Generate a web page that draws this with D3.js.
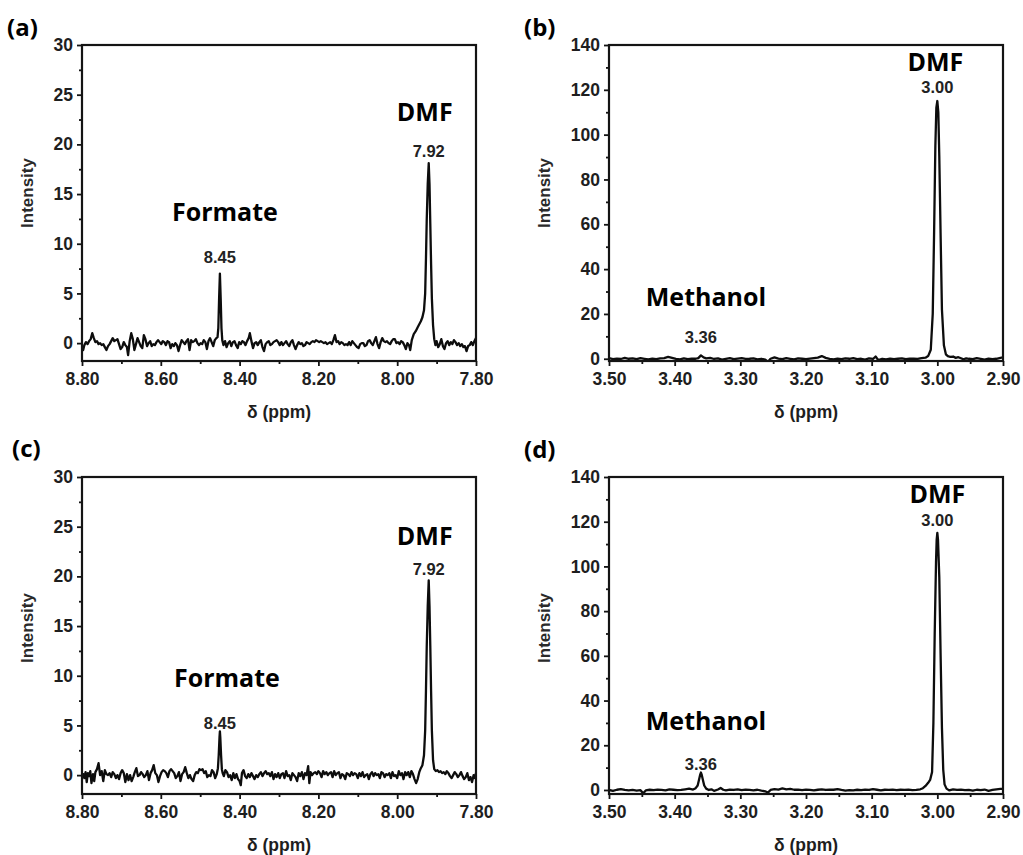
<!DOCTYPE html>
<html>
<head>
<meta charset="utf-8">
<script src="https://cdn.jsdelivr.net/npm/d3@7"></script>
<style>
  body { margin: 0; background: #ffffff; }
  svg { display: block; }
</style>
</head>
<body>
<svg id="fig" width="1023" height="855"></svg>
<script>
// ---------- 1H NMR spectra: [chemical shift (ppm), intensity] ----------
const spectrumA = [
[8.800,-0.3],[8.797,-0.7],[8.794,-0.2],[8.790,0.1],[8.786,-0.1],[8.782,0.2],[8.778,0.4],[8.774,1.0],[8.770,0.5],[8.766,0.1],[8.762,0.2],[8.758,-0.1],[8.754,0.0],[8.750,-0.2],[8.746,-0.1],[8.742,-0.4],[8.738,-0.7],[8.734,-0.3],[8.730,-0.1],[8.726,0.2],[8.722,0.5],[8.718,0.2],[8.714,0.3],[8.710,0.4],[8.706,-0.1],[8.702,-0.6],[8.698,-0.4],[8.694,0.1],[8.690,-0.2],[8.686,-0.4],[8.683,-1.2],[8.679,0.2],[8.675,1.0],[8.671,0.4],[8.667,-0.7],[8.663,-0.1],[8.659,0.5],[8.655,0.1],[8.651,-0.3],[8.647,-0.5],[8.643,0.8],[8.639,0.4],[8.635,-0.3],[8.631,0.0],[8.627,0.2],[8.623,-0.3],[8.619,-0.1],[8.615,-0.2],[8.611,0.1],[8.607,0.3],[8.603,0.1],[8.599,-0.1],[8.595,0.2],[8.591,0.1],[8.587,-0.2],[8.583,0.2],[8.579,0.1],[8.575,-0.5],[8.571,-0.1],[8.567,-0.3],[8.563,0.0],[8.559,-0.2],[8.555,-0.8],[8.551,-0.2],[8.547,0.3],[8.543,0.1],[8.539,-0.1],[8.535,0.2],[8.531,0.4],[8.527,-0.7],[8.523,0.3],[8.519,0.1],[8.515,0.2],[8.511,0.4],[8.507,0.0],[8.503,-0.2],[8.499,0.0],[8.495,-0.1],[8.491,0.3],[8.487,0.1],[8.483,-0.6],[8.479,0.2],[8.475,0.5],[8.471,0.1],[8.467,-0.3],[8.463,0.3],[8.459,0.5],[8.456,0.6],[8.454,1.5],[8.452,4.5],[8.450,7.0],[8.448,4.5],[8.446,1.5],[8.444,0.3],[8.441,-0.2],[8.437,0.2],[8.433,-0.4],[8.429,0.0],[8.425,0.2],[8.421,-0.3],[8.417,0.1],[8.413,0.2],[8.409,-0.2],[8.405,-0.5],[8.401,0.1],[8.397,-0.1],[8.393,0.2],[8.389,0.1],[8.385,-0.2],[8.381,0.2],[8.377,0.5],[8.374,1.0],[8.370,0.2],[8.366,-0.5],[8.362,0.0],[8.358,0.1],[8.354,-0.2],[8.350,0.1],[8.346,0.3],[8.342,-0.4],[8.338,-0.8],[8.334,-0.1],[8.330,0.1],[8.326,0.2],[8.322,-0.2],[8.318,-0.1],[8.314,0.1],[8.310,0.2],[8.306,0.3],[8.302,0.1],[8.298,-0.2],[8.294,0.1],[8.290,-0.2],[8.286,0.0],[8.282,0.2],[8.278,-0.1],[8.274,-0.3],[8.270,0.1],[8.266,0.3],[8.262,-0.2],[8.258,-0.6],[8.254,-0.2],[8.250,0.1],[8.246,-0.1],[8.242,0.0],[8.238,-0.3],[8.234,-0.2],[8.230,0.1],[8.226,0.0],[8.222,-0.1],[8.218,0.1],[8.214,0.2],[8.210,0.1],[8.206,0.3],[8.202,0.2],[8.198,0.1],[8.194,0.2],[8.190,0.1],[8.186,0.0],[8.182,0.1],[8.178,-0.1],[8.174,0.0],[8.170,0.1],[8.166,-0.1],[8.162,0.3],[8.158,0.8],[8.154,0.1],[8.150,0.2],[8.146,-0.1],[8.142,0.1],[8.138,0.0],[8.134,-0.2],[8.130,-0.1],[8.126,-0.2],[8.122,0.1],[8.118,-0.2],[8.114,0.2],[8.110,0.0],[8.106,-0.2],[8.102,-0.4],[8.098,-0.5],[8.094,-0.1],[8.090,0.0],[8.086,0.0],[8.082,-0.3],[8.078,-0.2],[8.074,0.2],[8.070,0.3],[8.066,0.0],[8.062,-0.2],[8.058,0.2],[8.054,0.6],[8.050,-0.1],[8.046,-0.5],[8.042,0.1],[8.038,0.5],[8.034,0.2],[8.030,0.1],[8.026,0.2],[8.022,0.0],[8.018,-0.1],[8.014,0.2],[8.010,0.4],[8.006,0.4],[8.002,0.0],[7.998,0.1],[7.994,-0.1],[7.990,0.2],[7.986,0.1],[7.982,-0.2],[7.978,-0.6],[7.974,0.0],[7.970,-0.2],[7.967,-0.7],[7.963,0.3],[7.958,0.9],[7.953,1.2],[7.948,1.6],[7.944,1.9],[7.940,2.2],[7.936,2.6],[7.932,3.3],[7.929,5.0],[7.927,8.5],[7.925,12.5],[7.9225,16.0],[7.920,18.1],[7.918,16.0],[7.916,12.0],[7.914,8.0],[7.912,4.5],[7.909,1.8],[7.906,0.4],[7.903,-0.2],[7.900,0.2],[7.896,-0.4],[7.892,-0.1],[7.888,0.4],[7.884,-0.3],[7.880,-0.6],[7.876,0.0],[7.872,0.2],[7.868,-0.2],[7.864,0.1],[7.860,-0.1],[7.856,0.3],[7.852,0.1],[7.848,-0.2],[7.844,0.0],[7.840,-0.3],[7.836,-0.1],[7.832,-0.4],[7.828,-0.3],[7.824,-0.8],[7.820,-0.3],[7.816,-0.2],[7.812,0.1],[7.808,-0.2],[7.804,0.2],[7.800,0.5]
];

const spectrumB = [
[3.500,0.3],[3.494,-0.2],[3.488,0.1],[3.482,-0.1],[3.476,0.4],[3.470,0.0],[3.464,0.2],[3.458,-0.2],[3.452,0.3],[3.446,0.0],[3.440,-0.3],[3.434,0.1],[3.428,-0.2],[3.422,0.2],[3.416,0.3],[3.410,0.8],[3.404,0.4],[3.398,0.0],[3.392,-0.3],[3.386,0.2],[3.380,-0.2],[3.374,0.1],[3.368,0.0],[3.364,0.3],[3.360,1.5],[3.356,0.6],[3.352,0.2],[3.346,0.4],[3.340,-0.1],[3.334,0.2],[3.328,-0.4],[3.322,0.0],[3.316,0.3],[3.310,-0.2],[3.304,0.1],[3.298,0.3],[3.292,-0.1],[3.286,0.0],[3.280,0.2],[3.274,-0.3],[3.268,0.0],[3.262,-0.4],[3.258,-1.4],[3.254,0.0],[3.248,0.6],[3.242,0.1],[3.236,-0.2],[3.230,0.3],[3.224,0.0],[3.218,-0.3],[3.212,0.2],[3.206,0.0],[3.200,-0.2],[3.194,0.1],[3.188,0.3],[3.182,0.5],[3.176,1.2],[3.170,0.4],[3.164,0.0],[3.158,-0.3],[3.152,0.1],[3.146,-0.2],[3.140,0.2],[3.134,0.0],[3.128,0.3],[3.122,-0.2],[3.116,0.0],[3.110,-0.4],[3.104,0.2],[3.098,-0.1],[3.094,1.0],[3.090,-0.6],[3.084,0.0],[3.078,-0.3],[3.072,0.1],[3.066,-0.2],[3.060,0.0],[3.054,0.2],[3.048,-0.2],[3.042,0.1],[3.036,0.0],[3.030,-0.1],[3.024,0.3],[3.018,0.5],[3.014,1.2],[3.010,4.0],[3.007,20],[3.005,55],[3.003,95],[3.0015,112],[3.000,115],[2.9985,110],[2.997,90],[2.995,55],[2.993,22],[2.990,6],[2.987,2.0],[2.984,1.2],[2.980,0.8],[2.976,1.0],[2.972,0.4],[2.968,0.7],[2.964,0.2],[2.960,-0.3],[2.956,0.2],[2.952,0.0],[2.946,-0.2],[2.940,0.3],[2.934,0.0],[2.928,-0.4],[2.922,0.1],[2.916,-0.2],[2.910,0.0],[2.904,0.4],[2.900,0.6]
];

const spectrumC = [
[8.800,-0.2],[8.797,0.1],[8.794,-0.3],[8.791,0.3],[8.788,-0.7],[8.785,0.2],[8.782,-0.1],[8.779,0.4],[8.776,-0.8],[8.772,0.1],[8.769,-0.6],[8.766,0.3],[8.762,0.6],[8.758,1.2],[8.754,0.0],[8.750,0.4],[8.746,-0.6],[8.742,0.5],[8.738,0.1],[8.734,0.0],[8.730,0.2],[8.726,-0.2],[8.722,0.3],[8.718,0.1],[8.714,-0.3],[8.710,0.0],[8.706,-0.4],[8.702,0.2],[8.698,0.5],[8.694,0.2],[8.690,-0.7],[8.686,0.1],[8.682,-0.5],[8.678,0.0],[8.674,-0.6],[8.670,-0.2],[8.666,0.3],[8.662,0.7],[8.658,-0.1],[8.654,0.0],[8.650,0.3],[8.646,0.1],[8.642,-0.2],[8.638,0.0],[8.634,0.4],[8.630,-0.5],[8.626,0.2],[8.622,0.5],[8.618,1.0],[8.614,0.2],[8.610,0.0],[8.606,-0.7],[8.602,-0.1],[8.598,0.3],[8.594,0.5],[8.590,0.4],[8.586,0.2],[8.582,-0.2],[8.578,0.4],[8.574,0.6],[8.570,0.4],[8.566,0.2],[8.562,-0.3],[8.558,-0.1],[8.554,0.3],[8.550,-0.6],[8.546,0.1],[8.542,0.3],[8.538,0.8],[8.534,0.2],[8.530,-0.3],[8.526,0.0],[8.522,-0.4],[8.518,-0.6],[8.514,0.0],[8.510,0.3],[8.506,0.2],[8.502,0.6],[8.498,0.5],[8.494,0.6],[8.490,0.2],[8.486,0.4],[8.482,-0.2],[8.478,0.0],[8.474,-0.1],[8.470,0.5],[8.466,0.3],[8.462,-0.3],[8.458,0.1],[8.455,0.7],[8.453,2.0],[8.451,3.8],[8.450,4.4],[8.449,3.8],[8.447,2.0],[8.445,0.6],[8.443,0.2],[8.440,-0.1],[8.436,0.5],[8.432,0.3],[8.428,-0.2],[8.424,0.0],[8.420,-0.5],[8.416,0.2],[8.412,-0.3],[8.408,0.1],[8.404,-0.4],[8.400,-0.6],[8.397,-1.0],[8.394,0.2],[8.390,0.5],[8.386,-0.1],[8.382,-0.3],[8.378,0.1],[8.374,-0.2],[8.370,0.2],[8.366,-0.1],[8.362,-0.4],[8.358,0.0],[8.354,-0.2],[8.350,0.1],[8.346,0.3],[8.342,-0.1],[8.338,0.2],[8.334,0.4],[8.330,0.1],[8.326,0.2],[8.322,-0.1],[8.318,0.3],[8.314,-0.4],[8.310,0.1],[8.306,-0.2],[8.302,0.2],[8.298,-0.3],[8.294,0.1],[8.290,0.2],[8.286,-0.3],[8.282,0.4],[8.278,-0.1],[8.274,0.0],[8.270,-0.5],[8.266,0.2],[8.262,0.0],[8.258,-0.2],[8.254,-0.6],[8.250,0.2],[8.246,-0.1],[8.242,0.3],[8.238,-0.4],[8.234,0.2],[8.230,0.0],[8.226,0.9],[8.223,-0.8],[8.220,0.3],[8.216,0.0],[8.212,0.2],[8.208,0.3],[8.204,0.1],[8.200,0.4],[8.196,0.2],[8.192,-0.2],[8.188,0.4],[8.184,0.1],[8.180,0.3],[8.176,0.0],[8.172,0.2],[8.168,0.3],[8.164,-0.2],[8.160,0.4],[8.156,0.0],[8.152,0.2],[8.148,0.3],[8.144,-0.3],[8.140,0.1],[8.136,0.0],[8.132,-0.4],[8.128,0.2],[8.124,0.1],[8.120,-0.1],[8.116,0.3],[8.112,0.0],[8.108,0.2],[8.104,0.1],[8.100,-0.3],[8.096,0.2],[8.092,-0.1],[8.088,0.3],[8.084,-0.2],[8.080,0.0],[8.076,0.1],[8.072,-0.4],[8.068,0.1],[8.064,0.3],[8.060,-0.1],[8.056,0.2],[8.052,0.0],[8.048,0.1],[8.044,-0.3],[8.040,0.3],[8.036,0.2],[8.032,-0.2],[8.028,0.1],[8.024,0.0],[8.020,0.2],[8.016,-0.3],[8.012,0.3],[8.008,-0.1],[8.004,0.0],[8.000,-0.3],[7.996,0.4],[7.992,0.0],[7.988,0.2],[7.984,-0.4],[7.980,0.3],[7.976,0.0],[7.972,0.3],[7.968,-0.2],[7.964,0.4],[7.960,0.1],[7.956,-0.4],[7.952,-0.8],[7.948,-0.4],[7.944,0.3],[7.940,0.7],[7.936,1.0],[7.932,2.0],[7.929,4.5],[7.927,8.5],[7.925,13.0],[7.9225,17.0],[7.920,19.6],[7.918,17.0],[7.916,13.0],[7.914,8.5],[7.912,4.5],[7.909,1.5],[7.906,0.6],[7.902,0.4],[7.898,0.5],[7.894,0.3],[7.890,0.4],[7.886,0.2],[7.882,0.3],[7.878,0.1],[7.874,0.4],[7.870,0.2],[7.866,-0.1],[7.862,-0.3],[7.858,0.0],[7.854,0.3],[7.850,0.1],[7.846,-0.2],[7.842,0.0],[7.838,0.3],[7.834,-0.1],[7.830,-0.4],[7.826,-0.2],[7.822,0.2],[7.818,-0.5],[7.814,-0.2],[7.810,-0.7],[7.806,0.0],[7.803,-0.3],[7.800,0.2]
];

const spectrumD = [
[3.500,0.0],[3.494,-0.4],[3.488,0.1],[3.482,0.4],[3.476,0.0],[3.470,-0.2],[3.464,0.0],[3.458,-0.3],[3.452,-0.1],[3.448,-1.5],[3.444,-0.2],[3.438,0.1],[3.432,-0.1],[3.426,0.2],[3.420,0.0],[3.414,-0.2],[3.408,0.3],[3.402,0.1],[3.396,-0.1],[3.390,0.0],[3.384,0.3],[3.378,0.6],[3.372,0.2],[3.368,0.8],[3.365,2.0],[3.363,4.5],[3.361,7.0],[3.360,7.8],[3.359,7.0],[3.357,4.5],[3.355,2.0],[3.352,0.6],[3.348,0.0],[3.344,0.3],[3.340,-0.4],[3.334,0.2],[3.330,0.9],[3.326,0.1],[3.322,-0.2],[3.316,0.2],[3.310,0.0],[3.304,0.3],[3.298,-0.1],[3.292,0.2],[3.286,0.0],[3.280,-0.2],[3.274,0.1],[3.268,-0.3],[3.262,-0.6],[3.258,-1.2],[3.254,0.0],[3.248,0.4],[3.242,0.2],[3.236,0.7],[3.230,0.3],[3.224,0.5],[3.218,0.1],[3.212,0.2],[3.206,-0.1],[3.200,0.2],[3.194,0.0],[3.188,-0.2],[3.182,0.1],[3.176,0.3],[3.170,0.0],[3.164,0.2],[3.158,0.1],[3.152,0.4],[3.146,0.0],[3.140,-0.3],[3.134,-0.1],[3.128,-0.2],[3.122,0.1],[3.116,-0.1],[3.110,0.2],[3.104,0.0],[3.098,0.4],[3.092,0.1],[3.086,-0.2],[3.080,0.1],[3.074,0.0],[3.068,0.2],[3.062,-0.1],[3.056,0.1],[3.050,0.0],[3.044,0.2],[3.038,-0.1],[3.032,0.0],[3.026,0.3],[3.022,0.8],[3.018,1.8],[3.014,3.2],[3.011,4.5],[3.008,8],[3.006,30],[3.004,70],[3.002,102],[3.001,112],[3.000,115],[2.999,112],[2.997,95],[2.995,60],[2.993,28],[2.991,9],[2.989,2.5],[2.986,0.6],[2.982,-0.2],[2.976,0.3],[2.970,0.0],[2.964,0.2],[2.958,-0.1],[2.952,0.0],[2.946,-0.3],[2.940,0.1],[2.934,-0.1],[2.928,0.2],[2.922,-0.4],[2.916,0.0],[2.910,0.3],[2.904,0.5],[2.900,0.5]
];

// ---------- assigned peaks ----------
const peaksA = [8.45, 7.92];
const compoundsA = ["Formate", "DMF"];
const peaksB = [3.36, 3.00];
const compoundsB = ["Methanol", "DMF"];
const peaksC = [8.45, 7.92];
const compoundsC = ["Formate", "DMF"];
const peaksD = [3.36, 3.00];
const compoundsD = ["Methanol", "DMF"];

// ---------- axes ----------
const xDomainAC = [8.80, 7.80];
const xDomainBD = [3.50, 2.90];
const xTicksAC = [8.80, 8.60, 8.40, 8.20, 8.00, 7.80];
const xMinorAC = [8.70, 8.50, 8.30, 8.10, 7.90];
const xTicksBD = [3.50, 3.40, 3.30, 3.20, 3.10, 3.00, 2.90];
const xMinorBD = [3.45, 3.35, 3.25, 3.15, 3.05, 2.95];
const yDomainA = [-1.8, 30];
const yDomainC = [-1.9, 30];
const yDomainB = [-1.0, 140];
const yDomainD = [-1.8, 140];
const yTicksAC = [0, 5, 10, 15, 20, 25, 30];
const yMinorAC = [2.5, 7.5, 12.5, 17.5, 22.5, 27.5];
const yTicksBD = [0, 20, 40, 60, 80, 100, 120, 140];
const yMinorBD = [10, 30, 50, 70, 90, 110, 130];

const panelLetters = ["(a)", "(b)", "(c)", "(d)"];
const xTitle = "\u03B4 (ppm)";
const yTitle = "Intensity";

// ---------- layout ----------
const panels = [
  { letter: panelLetters[0], data: spectrumA, peaks: peaksA, names: compoundsA,
    xDomain: xDomainAC, xTicks: xTicksAC, xMinor: xMinorAC,
    yDomain: yDomainA, yTicks: yTicksAC, yMinor: yMinorAC,
    box: { l: 82, t: 45, r: 476, b: 361 }, letterPos: [7, 36], yTitlePos: [27, 193], xTitleY: 418,
    lift: [11, 6], nameGap: [42, 36], nameDx: [5, -4] },
  { letter: panelLetters[1], data: spectrumB, peaks: peaksB, names: compoundsB,
    xDomain: xDomainBD, xTicks: xTicksBD, xMinor: xMinorBD,
    yDomain: yDomainB, yTicks: yTicksBD, yMinor: yMinorBD,
    box: { l: 609, t: 45, r: 1003, b: 361 }, letterPos: [524, 36], yTitlePos: [544, 193], xTitleY: 418,
    lift: [12, 8], nameGap: [37, 22], nameDx: [5, -2] },
  { letter: panelLetters[2], data: spectrumC, peaks: peaksC, names: compoundsC,
    xDomain: xDomainAC, xTicks: xTicksAC, xMinor: xMinorAC,
    yDomain: yDomainC, yTicks: yTicksAC, yMinor: yMinorAC,
    box: { l: 82, t: 477, r: 476, b: 794 }, letterPos: [12, 457], yTitlePos: [27, 628], xTitleY: 851,
    lift: [2, 5], nameGap: [42, 30], nameDx: [7, -4] },
  { letter: panelLetters[3], data: spectrumD, peaks: peaksD, names: compoundsD,
    xDomain: xDomainBD, xTicks: xTicksBD, xMinor: xMinorBD,
    yDomain: yDomainD, yTicks: yTicksBD, yMinor: yMinorBD,
    box: { l: 609, t: 477, r: 1003, b: 794 }, letterPos: [524, 458], yTitlePos: [544, 628], xTitleY: 851,
    lift: [3, 7], nameGap: [40, 23], nameDx: [5, 0] }
];

const ink = "#141414";
const tickFont = "'Liberation Sans', Arial, sans-serif";
const labelFont = "'Open Sans', 'Noto Sans', sans-serif";

const svg = d3.select("#fig");

panels.forEach((p, i) => {
  const w = p.box.r - p.box.l, h = p.box.b - p.box.t;
  const x = d3.scaleLinear().domain(p.xDomain).range([0, w]);
  const y = d3.scaleLinear().domain(p.yDomain).range([h, 0]);
  const g = svg.append("g").attr("transform", `translate(${p.box.l},${p.box.t})`);

  const clipId = "clip" + i;
  g.append("clipPath").attr("id", clipId)
    .append("rect").attr("x", 0).attr("y", 0).attr("width", w).attr("height", h);

  // spectrum trace
  const line = d3.line().x(d => x(d[0])).y(d => y(d[1]));
  g.append("path").datum(p.data)
    .attr("clip-path", `url(#${clipId})`)
    .attr("d", line)
    .attr("fill", "none")
    .attr("stroke", "#0d0d0d")
    .attr("stroke-width", 2.3)
    .attr("stroke-linejoin", "round");

  // major / minor ticks
  const xAxis = g.append("g").attr("transform", `translate(0,${h})`)
    .call(d3.axisBottom(x).tickValues(p.xTicks).tickSize(5).tickPadding(7).tickFormat(d3.format(".2f")));
  const xMinorAxis = g.append("g").attr("transform", `translate(0,${h})`)
    .call(d3.axisBottom(x).tickValues(p.xMinor).tickSize(3).tickFormat(""));
  const yAxis = g.append("g")
    .call(d3.axisLeft(y).tickValues(p.yTicks).tickSize(5).tickPadding(4).tickFormat(d3.format("d")));
  const yMinorAxis = g.append("g")
    .call(d3.axisLeft(y).tickValues(p.yMinor).tickSize(3).tickFormat(""));

  [xAxis, xMinorAxis, yAxis, yMinorAxis].forEach(a => {
    a.select(".domain").remove();
    a.selectAll(".tick line").attr("stroke", ink).attr("stroke-width", 1.8);
    a.selectAll(".tick text")
      .attr("fill", "#1e1e1e")
      .style("font-family", tickFont)
      .style("font-weight", "bold")
      .style("font-size", "17.5px");
  });

  // frame
  g.append("rect").attr("x", 0).attr("y", 0).attr("width", w).attr("height", h)
    .attr("fill", "none").attr("stroke", ink).attr("stroke-width", 2.2);

  // peak annotations
  p.peaks.forEach((ppm, k) => {
    const near = p.data.filter(d => Math.abs(d[0] - ppm) <= 0.006);
    const top = d3.max(near, d => d[1]);
    const px = x(ppm);
    const shiftY = y(top) - p.lift[k];
    g.append("text")
      .attr("x", px).attr("y", shiftY)
      .attr("text-anchor", "middle")
      .attr("fill", "#222")
      .style("font-family", tickFont)
      .style("font-weight", "bold")
      .style("font-size", "16.5px")
      .text(d3.format(".2f")(ppm));
    g.append("text")
      .attr("x", px + p.nameDx[k]).attr("y", shiftY - p.nameGap[k])
      .attr("text-anchor", "middle")
      .attr("fill", "#000")
      .style("font-family", labelFont)
      .style("font-weight", "bold")
      .style("font-size", "25px")
      .text(p.names[k]);
  });

  // axis titles
  svg.append("text")
    .attr("transform", `translate(${p.yTitlePos[0]},${p.yTitlePos[1]}) rotate(-90)`)
    .attr("text-anchor", "middle")
    .attr("dy", "0.35em")
    .attr("fill", "#2a2a2a")
    .style("font-family", tickFont)
    .style("font-weight", "bold")
    .style("font-size", "17px")
    .text(yTitle);
  svg.append("text")
    .attr("x", (p.box.l + p.box.r) / 2).attr("y", p.xTitleY)
    .attr("text-anchor", "middle")
    .attr("fill", "#1e1e1e")
    .style("font-family", tickFont)
    .style("font-weight", "bold")
    .style("font-size", "17.5px")
    .text(xTitle);

  // panel letter
  svg.append("text")
    .attr("x", p.letterPos[0]).attr("y", p.letterPos[1])
    .attr("fill", "#000")
    .style("font-family", labelFont)
    .style("font-weight", "bold")
    .style("font-size", "24px")
    .text(p.letter);
});
</script>
</body>
</html>
